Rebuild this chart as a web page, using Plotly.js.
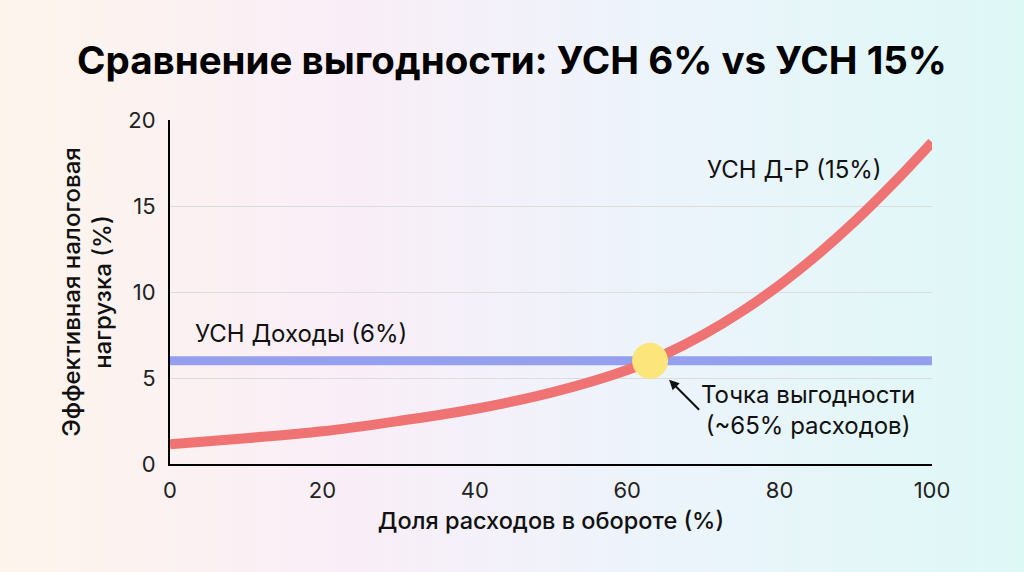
<!DOCTYPE html>
<html>
<head>
<meta charset="utf-8">
<script src="https://cdn.plot.ly/plotly-3.0.1.min.js"></script>
<style>
  html, body { margin: 0; padding: 0; }
  body {
    width: 1024px; height: 572px; overflow: hidden;
    background: linear-gradient(90deg, #fdf5ec 0%, #f9eef8 35%, #ecf4fb 65%, #def8f6 100%);
  }
  #chart { width: 1024px; height: 572px; }
</style>
</head>
<body>
<div id="chart"></div>
<script>
// доля расходов в обороте, %
const expenseShare = [0, 10, 20, 30, 40, 50, 60, 65, 70, 75, 80, 85, 90, 95, 100];
// УСН доходы минус расходы, эффективная нагрузка %
const usn15Load = [1.15, 1.5, 1.9, 2.5, 3.2, 4.15, 5.47, 6.39, 7.52, 8.86, 10.41, 12.18, 14.16, 16.35, 18.7];
// УСН доходы
const usn6X = [0, 100];
const usn6Load = [6, 6];
// точка выгодности
const breakEvenX = [63];
const breakEvenY = [6];

const font = 'Inter, "Noto Sans", sans-serif';

const traces = [
  {
    x: usn6X, y: usn6Load,
    mode: 'lines', type: 'scatter',
    line: { color: '#949fee', width: 9 },
    hoverinfo: 'skip'
  },
  {
    x: expenseShare, y: usn15Load,
    mode: 'lines', type: 'scatter',
    line: { color: '#f07373', width: 10, shape: 'spline', smoothing: 1 },
    hoverinfo: 'skip'
  },
  {
    x: breakEvenX, y: breakEvenY,
    mode: 'markers', type: 'scatter',
    marker: { color: '#fce67c', size: 36, line: { width: 0 } },
    hoverinfo: 'skip'
  }
];

const layout = {
  width: 1024, height: 572,
  paper_bgcolor: 'rgba(0,0,0,0)',
  plot_bgcolor: 'rgba(0,0,0,0)',
  showlegend: false,
  margin: { l: 170, r: 92, t: 120, b: 108 },
  font: { family: font, color: '#111' },
  title: {
    text: 'Сравнение выгодности: УСН 6% vs УСН 15%',
    font: { family: font, size: 38.5, weight: 700, color: '#000' },
    x: 0.5, xanchor: 'center', y: 0.895, yanchor: 'middle'
  },
  xaxis: {
    range: [0, 100],
    tickvals: [0, 20, 40, 60, 80, 100],
    showgrid: false, zeroline: false,
    showline: true, linecolor: '#000', linewidth: 2,
    ticks: 'outside', ticklen: 6, tickcolor: 'rgba(0,0,0,0)',
    tickfont: { size: 22, color: '#222' },
    title: { text: 'Доля расходов в обороте (%)', font: { size: 23.5, weight: 500, color: '#111' }, standoff: 10 }
  },
  yaxis: {
    range: [0, 20],
    tickvals: [0, 5, 10, 15, 20],
    showgrid: true, gridcolor: '#dcdcdc', gridwidth: 1,
    zeroline: false,
    showline: true, linecolor: '#000', linewidth: 2,
    ticks: 'outside', ticklen: 8, tickcolor: 'rgba(0,0,0,0)',
    tickfont: { size: 22, color: '#222' },
    title: { text: 'Эффективная налоговая<br>нагрузка (%)', font: { size: 24, weight: 500, color: '#111' }, standoff: 10 }
  },
  annotations: [
    {
      x: 3, y: 7.6, xref: 'x', yref: 'y',
      text: 'УСН Доходы (6%)', showarrow: false,
      xanchor: 'left', yanchor: 'middle',
      font: { size: 24, color: '#111' }
    },
    {
      x: 82, y: 17.1, xref: 'x', yref: 'y',
      text: 'УСН Д-Р (15%)', showarrow: false,
      xanchor: 'center', yanchor: 'middle',
      font: { size: 24, color: '#111' }
    },
    {
      x: 65.5, y: 4.9, xref: 'x', yref: 'y',
      ax: 30, ay: 30,
      text: 'Точка выгодности<br>(~65% расходов)',
      showarrow: true, arrowhead: 2, arrowsize: 1, arrowwidth: 2, arrowcolor: '#111',
      standoff: 0,
      xanchor: 'left', yanchor: 'middle', align: 'center',
      font: { size: 24, color: '#111' }
    }
  ]
};

Plotly.newPlot('chart', traces, layout, { staticPlot: true });
</script>
</body>
</html>
